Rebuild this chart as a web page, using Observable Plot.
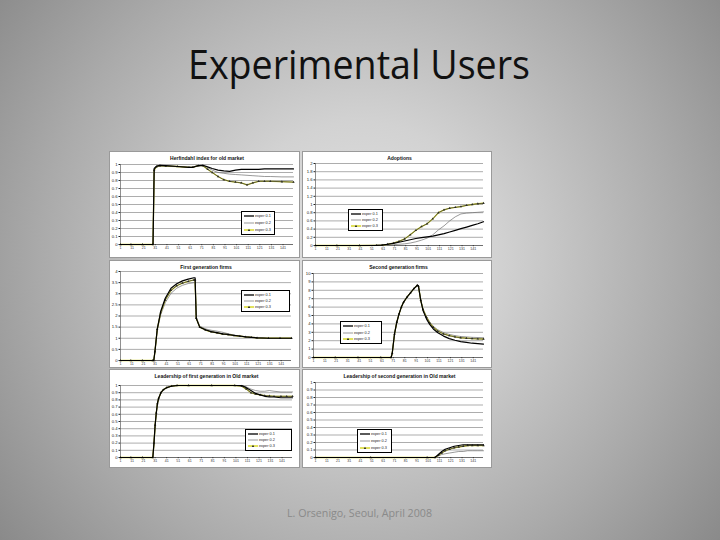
<!DOCTYPE html>
<html>
<head>
<meta charset="utf-8">
<script src="https://cdn.jsdelivr.net/npm/d3@7"></script>
<script src="https://cdn.jsdelivr.net/npm/@observablehq/plot@0.6"></script>
<style>
html,body{margin:0;padding:0;}
#slide{position:relative;width:720px;height:540px;overflow:hidden;
 background:radial-gradient(circle farthest-corner at 50% 48%, #e3e3e3 0%, #d2d2d2 30%, #aaaaaa 70%, #8a8a8a 100%);}
.panel{position:absolute;background:#fff;outline:1px solid #9a9a9a;}
.panel svg{display:block;}
.legend{position:absolute;background:#fff;border:0.6px solid #000;box-sizing:border-box;white-space:nowrap;overflow:hidden;
 font-family:"Liberation Sans",Arial,sans-serif;font-size:3.8px;line-height:4px;color:#222;display:flex;flex-direction:column;justify-content:space-evenly;padding:0 1.5px;}
.legend div{display:flex;align-items:center;height:5px;white-space:nowrap;}
.legend svg{margin-right:1.5px;flex:none;}
#over{position:absolute;left:0;top:0;}
</style>
</head>
<body>
<div id="slide"></div>
<script>
// ---------- data ----------
const xTicks = [1, 11, 21, 31, 41, 51, 61, 71, 81, 91, 101, 111, 121, 131, 141];
const seriesNames = ["exper 0.1", "exper 0.2", "exper 0.3"];

// Chart 1: Herfindahl index for old market
const herfX  = [1, 10, 20, 29, 30, 32, 35, 40, 50, 60, 63, 68, 72, 76, 80, 85, 90, 95, 100, 105, 110, 115, 120, 125, 130, 140, 150];
const herfS1 = [0, 0, 0, 0, 0.95, 0.98, 0.99, 0.985, 0.975, 0.965, 0.965, 0.985, 0.99, 0.97, 0.95, 0.93, 0.92, 0.915, 0.93, 0.94, 0.94, 0.94, 0.94, 0.945, 0.945, 0.945, 0.945];
const herfS2 = [0, 0, 0, 0, 0.94, 0.98, 0.99, 0.985, 0.975, 0.965, 0.965, 0.985, 0.99, 0.96, 0.93, 0.90, 0.89, 0.88, 0.875, 0.87, 0.865, 0.86, 0.855, 0.85, 0.85, 0.845, 0.845];
const herfS3 = [0, 0, 0, 0, 0.93, 0.97, 0.985, 0.98, 0.975, 0.965, 0.965, 0.985, 0.985, 0.94, 0.90, 0.85, 0.81, 0.79, 0.78, 0.77, 0.745, 0.77, 0.79, 0.79, 0.79, 0.785, 0.78];
const herfYTicks = [0, 0.1, 0.2, 0.3, 0.4, 0.5, 0.6, 0.7, 0.8, 0.9, 1];

// Chart 2: Adoptions
const adoX  = [1, 20, 40, 55, 60, 65, 70, 75, 80, 85, 90, 95, 100, 105, 110, 115, 120, 125, 130, 135, 140, 145, 150];
const adoS1 = [0, 0, 0, 0.005, 0.01, 0.03, 0.05, 0.08, 0.11, 0.14, 0.17, 0.19, 0.21, 0.23, 0.26, 0.29, 0.33, 0.37, 0.41, 0.45, 0.49, 0.53, 0.58];
const adoS2 = [0, 0, 0, 0, 0.005, 0.01, 0.02, 0.03, 0.04, 0.06, 0.09, 0.13, 0.18, 0.26, 0.38, 0.48, 0.60, 0.70, 0.77, 0.79, 0.80, 0.81, 0.82];
const adoS3 = [0, 0, 0, 0.005, 0.01, 0.03, 0.06, 0.10, 0.16, 0.26, 0.37, 0.46, 0.53, 0.65, 0.80, 0.87, 0.91, 0.93, 0.95, 0.98, 1.00, 1.02, 1.03];
const adoYTicks = [0, 0.2, 0.4, 0.6, 0.8, 1, 1.2, 1.4, 1.6, 1.8, 2];

// Chart 3: First generation firms
const firstX  = [1, 10, 20, 29, 30, 31, 33, 36, 40, 45, 50, 55, 60, 65, 66, 67, 70, 75, 80, 85, 90, 95, 100, 105, 110, 115, 120, 130, 140, 150];
const firstS1 = [0, 0, 0, 0, 0, 0.4, 1.4, 2.2, 2.8, 3.25, 3.45, 3.58, 3.66, 3.72, 3.72, 1.9, 1.50, 1.38, 1.30, 1.25, 1.20, 1.17, 1.13, 1.10, 1.06, 1.04, 1.02, 1.0, 1.0, 1.0];
const firstS2 = [0, 0, 0, 0, 0, 0.4, 1.35, 2.05, 2.6, 3.02, 3.25, 3.38, 3.46, 3.50, 3.50, 1.95, 1.55, 1.42, 1.36, 1.32, 1.27, 1.20, 1.14, 1.10, 1.07, 1.04, 1.02, 1.0, 1.0, 1.0];
const firstS3 = [0, 0, 0, 0, 0, 0.4, 1.4, 2.15, 2.72, 3.15, 3.36, 3.48, 3.56, 3.62, 3.62, 1.9, 1.50, 1.37, 1.29, 1.24, 1.19, 1.16, 1.12, 1.09, 1.06, 1.04, 1.02, 1.0, 1.0, 1.0];
const firstYTicks = [0, 0.5, 1, 1.5, 2, 2.5, 3, 3.5, 4];

// Chart 4: Second generation firms
const secondX  = [1, 20, 40, 60, 69, 70, 72, 74, 76, 78, 80, 83, 86, 89, 92, 93, 95, 97, 100, 103, 106, 110, 115, 120, 125, 130, 135, 140, 145, 150];
const secondS1 = [0, 0, 0, 0, 0, 0.5, 2.8, 4.2, 5.2, 6.0, 6.6, 7.2, 7.7, 8.2, 8.6, 8.5, 6.8, 5.6, 4.6, 3.9, 3.4, 2.95, 2.55, 2.25, 2.05, 1.9, 1.8, 1.7, 1.65, 1.6];
const secondS2 = [0, 0, 0, 0, 0, 0.5, 2.8, 4.2, 5.2, 6.0, 6.6, 7.2, 7.7, 8.2, 8.5, 8.4, 6.9, 5.8, 4.9, 4.2, 3.7, 3.3, 2.95, 2.75, 2.6, 2.5, 2.45, 2.4, 2.38, 2.35];
const secondS3 = [0, 0, 0, 0, 0, 0.5, 2.8, 4.2, 5.2, 6.0, 6.6, 7.2, 7.7, 8.2, 8.6, 8.5, 6.8, 5.7, 4.8, 4.1, 3.6, 3.15, 2.8, 2.6, 2.45, 2.35, 2.3, 2.25, 2.22, 2.2];
const secondYTicks = [0, 1, 2, 3, 4, 5, 6, 7, 8, 9, 10];

// Chart 5: Leadership of first generation in Old market
const lead1X  = [1, 10, 20, 29, 30, 31, 32, 33, 34, 36, 38, 41, 45, 50, 60, 80, 100, 106, 110, 114, 118, 122, 126, 130, 134, 140, 145, 150];
const lead1S1 = [0, 0, 0, 0, 0.2, 0.45, 0.62, 0.75, 0.82, 0.9, 0.94, 0.97, 0.99, 1, 1, 1, 1, 1, 0.97, 0.93, 0.89, 0.87, 0.85, 0.84, 0.84, 0.83, 0.83, 0.83];
const lead1S2 = [0, 0, 0, 0, 0.2, 0.45, 0.62, 0.75, 0.82, 0.9, 0.94, 0.97, 0.99, 1, 1, 1, 1, 1, 0.98, 0.95, 0.93, 0.92, 0.92, 0.93, 0.92, 0.91, 0.91, 0.91];
const lead1S3 = [0, 0, 0, 0, 0.2, 0.45, 0.62, 0.75, 0.82, 0.9, 0.94, 0.97, 0.99, 1, 1, 1, 1, 0.99, 0.95, 0.90, 0.88, 0.87, 0.86, 0.855, 0.85, 0.85, 0.85, 0.85];
const leadYTicks = [0, 0.1, 0.2, 0.3, 0.4, 0.5, 0.6, 0.7, 0.8, 0.9, 1];

// Chart 6: Leadership of second generation in Old market
const lead2X  = [1, 50, 100, 107, 110, 113, 116, 120, 124, 128, 132, 136, 140, 145, 150];
const lead2S1 = [0, 0, 0, 0, 0.04, 0.08, 0.11, 0.13, 0.15, 0.16, 0.17, 0.17, 0.17, 0.17, 0.17];
const lead2S2 = [0, 0, 0, 0, 0.02, 0.04, 0.05, 0.06, 0.07, 0.08, 0.08, 0.09, 0.09, 0.09, 0.09];
const lead2S3 = [0, 0, 0, 0, 0.03, 0.06, 0.09, 0.11, 0.13, 0.14, 0.15, 0.16, 0.16, 0.16, 0.16];

// ---------- layout ----------
const charts = [
  {title: "Herfindahl index for old market", x: herfX, s: [herfS1, herfS2, herfS3], yTicks: herfYTicks,
   box: [110, 152, 189, 105], m: [12, 6, 13, 10], leg: [131, 59, 34, 24]},
  {title: "Adoptions", x: adoX, s: [adoS1, adoS2, adoS3], yTicks: adoYTicks,
   box: [303, 152, 188, 105], m: [11, 8, 12, 12], leg: [45, 57, 35, 22]},
  {title: "First generation firms", x: firstX, s: [firstS1, firstS2, firstS3], yTicks: firstYTicks,
   box: [110, 261, 189, 106], m: [10, 8, 7, 10], leg: [131, 29, 49, 22]},
  {title: "Second generation firms", x: secondX, s: [secondS1, secondS2, secondS3], yTicks: secondYTicks,
   box: [303, 261, 188, 106], m: [12, 8, 10, 10], leg: [37, 60, 42, 23]},
  {title: "Leadership of first generation in Old market", x: lead1X, s: [lead1S1, lead1S2, lead1S3], yTicks: leadYTicks,
   box: [110, 370, 189, 97], m: [15, 7, 10, 10], leg: [135, 59, 47, 22]},
  {title: "Leadership of second generation in Old market", x: lead2X, s: [lead2S1, lead2S2, lead2S3], yTicks: leadYTicks,
   box: [303, 370, 188, 97], m: [12, 8, 10, 12], leg: [54, 59, 35, 24]}
];

const slide = document.getElementById("slide");
const FONT = "Liberation Sans, Arial, sans-serif";

for (const c of charts) {
  const [bx, by, bw, bh] = c.box;
  const [mt, mr, mb, ml] = c.m;
  const rows = [];
  c.s.forEach((vals, k) => vals.forEach((v, i) => rows.push({x: c.x[i], y: vals[i], s: seriesNames[k]})));
  const byS = name => rows.filter(r => r.s === name);
  const ymax = c.yTicks[c.yTicks.length - 1];
  const chart = Plot.plot({
    width: bw, height: bh,
    marginTop: mt, marginRight: mr, marginBottom: mb, marginLeft: ml,
    x: {domain: [1, 150], label: null},
    y: {domain: [0, ymax], label: null},
    style: {fontFamily: FONT, fontSize: "4px", background: "white", color: "#222"},
    marks: [
      Plot.gridY(c.yTicks, {stroke: "#8a8a8a", strokeOpacity: 1, strokeWidth: 0.7}),
      Plot.axisY(c.yTicks, {tickSize: 1.5, tickPadding: 1.5, fontSize: 4.2, label: null, tickFormat: d => d, fill: "#222"}),
      Plot.axisX(xTicks, {tickSize: 1.2, tickPadding: 1, fontSize: 3.6, label: null, tickFormat: d => d, fill: "#333"}),
      Plot.ruleX([1], {stroke: "#444", strokeWidth: 0.6}),
      Plot.ruleY([0], {stroke: "#444", strokeWidth: 0.6}),
      Plot.line(byS(seriesNames[1]), {x: "x", y: "y", stroke: "#6e6e6e", strokeWidth: 0.7}),
      Plot.line(byS(seriesNames[2]), {x: "x", y: "y", stroke: "#d4d43a", strokeWidth: 1.3}),
      Plot.line(byS(seriesNames[2]), {x: "x", y: "y", stroke: "#3a3a2a", strokeWidth: 0.9, strokeOpacity: 0.85}),
      Plot.dot(byS(seriesNames[2]), {x: "x", y: "y", symbol: "triangle", r: 0.9, fill: "#2a2a2a", stroke: "none"}),
      Plot.line(byS(seriesNames[0]), {x: "x", y: "y", stroke: "#000", strokeWidth: 1.2}),
      Plot.text([c.title], {frameAnchor: "top", lineAnchor: "middle", dy: -(mt - 5.5), fontSize: 5, fontWeight: "bold", fill: "#111"})
    ]
  });
  const panel = document.createElement("div");
  panel.className = "panel";
  Object.assign(panel.style, {left: bx + "px", top: by + "px", width: bw + "px", height: bh + "px"});
  panel.appendChild(chart);
  // legend
  const [lx, ly, lw, lh] = c.leg;
  const leg = document.createElement("div");
  leg.className = "legend";
  Object.assign(leg.style, {left: lx + "px", top: ly + "px", width: lw + "px", height: lh + "px"});
  const samples = [
    '<line x1="0" y1="2" x2="10" y2="2" stroke="#000" stroke-width="1.3"/>',
    '<line x1="0" y1="2" x2="10" y2="2" stroke="#6e6e6e" stroke-width="0.7"/>',
    '<line x1="0" y1="2" x2="10" y2="2" stroke="#d9d92a" stroke-width="1.5"/><path d="M5,0.8 L6.2,2.9 L3.8,2.9 Z" fill="#2a2a2a"/>'
  ];
  seriesNames.forEach((n, k) => {
    const row = document.createElement("div");
    row.innerHTML = `<svg width="10" height="4">${samples[k]}</svg><span>${n}</span>`;
    leg.appendChild(row);
  });
  panel.appendChild(leg);
  slide.appendChild(panel);
}

// title and footer
const over = d3.select("#slide").append("svg").attr("id", "over").attr("width", 720).attr("height", 540)
  .style("pointer-events", "none");
over.append("text").attr("x", 359).attr("y", 79).attr("text-anchor", "middle")
  .attr("font-family", "Open Sans, Lato, sans-serif").attr("font-size", 40).attr("fill", "#111")
  .attr("textLength", 342).attr("lengthAdjust", "spacingAndGlyphs").text("Experimental Users");
over.append("text").attr("x", 359.5).attr("y", 517).attr("text-anchor", "middle")
  .attr("font-family", "Open Sans, Lato, sans-serif").attr("font-size", 11).attr("fill", "#8a8a8a")
  .attr("textLength", 145).attr("lengthAdjust", "spacingAndGlyphs").text("L. Orsenigo, Seoul, April 2008");
</script>
</body>
</html>
